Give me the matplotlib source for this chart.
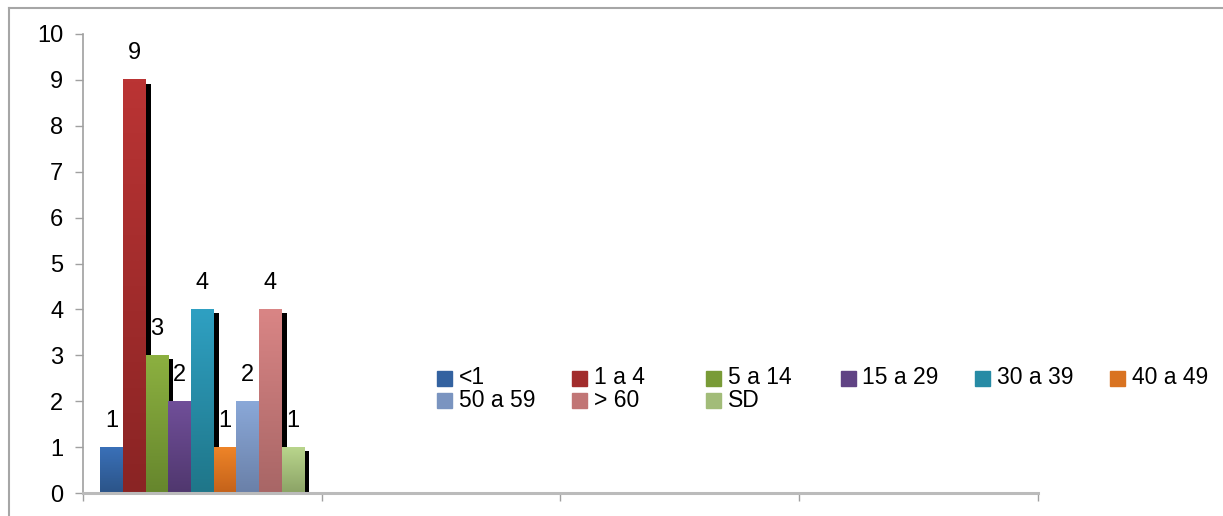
import numpy as np
import matplotlib
matplotlib.use("Agg")
import matplotlib.pyplot as plt
import matplotlib.transforms as mtransforms
from matplotlib.colors import to_rgb
from matplotlib.patches import Rectangle
from matplotlib.lines import Line2D

plt.rcParams['font.family'] = ['Liberation Sans', 'DejaVu Sans']

# series (age groups) and their counts, all in the first category
series = ["<1", "1 a 4", "5 a 14", "15 a 29", "30 a 39", "40 a 49",
          "50 a 59", "> 60", "SD"]
counts = [1, 9, 3, 2, 4, 1, 2, 4, 1]
n_categories = 4
y_ticks = list(range(0, 11))

# gradient colours, top -> bottom
top_colors = ["#3A70B8", "#BA3434", "#8CB040", "#704F99", "#2FA0C2",
              "#EE8428", "#8AA8D8", "#D98585", "#B9D58C"]
bottom_colors = ["#2B5488", "#8A2424", "#66862D", "#50376E", "#1F7689",
                 "#C4621A", "#6A80A8", "#A86666", "#8BA366"]

W, H = 1223, 516
fig = plt.figure(figsize=(W / 100, H / 100), dpi=100)
ax = fig.add_axes([83 / W, 1 - 493 / H, (1038 - 83) / W, (493 - 34) / H])

bar_w = 0.095
n = len(series)
xs = [0 + (i - (n - 1) / 2) * bar_w for i in range(n)]

# shadows first: same bars shifted right/down a few pixels
shadow_tr = mtransforms.offset_copy(ax.transData, fig, x=5, y=-4, units='dots')
shadows = ax.bar(xs, counts, width=bar_w, color="black", zorder=1)
for p in shadows:
    p.set_transform(shadow_tr)

bars = ax.bar(xs, counts, width=bar_w, color=top_colors, zorder=2)
for p, c_top, c_bot in zip(bars, top_colors, bottom_colors):
    t = np.array(to_rgb(c_top))
    b = np.array(to_rgb(c_bot))
    f = np.linspace(0, 1, 64)[:, None]
    grad = (t * (1 - f) + b * f)[:, None, :]
    x0, w, h = p.get_x(), p.get_width(), p.get_height()
    ax.imshow(grad, extent=(x0, x0 + w, 0, h), aspect='auto',
              interpolation='bilinear', zorder=2.1)

for x, v in zip(xs, counts):
    ax.annotate(str(v), (x, v), xytext=(0, 14.8), textcoords='offset points',
                ha='center', va='baseline', fontsize=17, zorder=5)

ax.set_xlim(-0.5, n_categories - 0.5)
ax.set_ylim(0, 10)
ax.set_yticks(y_ticks)
ax.set_xticks(np.arange(n_categories + 1) - 0.5)
ax.set_xticklabels([])

gray = "#A0A0A0"
for s in ["top", "right"]:
    ax.spines[s].set_visible(False)
ax.spines["left"].set_color(gray)
ax.spines["left"].set_linewidth(1.2)
ax.spines["bottom"].set_color("#BBBBBB")
ax.spines["bottom"].set_linewidth(2.2)
ax.spines["bottom"].set_zorder(3)
ax.tick_params(axis='y', direction='out', length=5.8, width=1, color=gray,
               pad=8.5, labelsize=17)
ax.tick_params(axis='x', direction='out', length=5.8, width=1, color=gray)

# legend laid out as a uniform grid like the original
pitch = 134.5
for i, (name, c_top, c_bot) in enumerate(zip(series, top_colors, bottom_colors)):
    col, row = i % 6, i // 6
    mx = 437 + col * pitch
    my = 385.5 + row * 22.5  # bottom of marker in pixels from top
    rgb = (np.array(to_rgb(c_top)) + np.array(to_rgb(c_bot))) / 2
    fig.patches.append(Rectangle((mx / W, 1 - my / H), 15 / W, 15 / H,
                                 transform=fig.transFigure, color=rgb))
    fig.text((mx + 22) / W, 1 - (my - 1) / H, name, fontsize=16.5,
             ha='left', va='baseline')

# outer chart frame (left and top edges visible)
fig.add_artist(Line2D([9 / W, 9 / W], [0, 1 - 8 / H], color="#A6A6A6",
                      lw=1.5, transform=fig.transFigure))
fig.add_artist(Line2D([9 / W, 1], [1 - 8 / H, 1 - 8 / H], color="#A6A6A6",
                      lw=1.5, transform=fig.transFigure))

fig.savefig("out.png", dpi=100)
